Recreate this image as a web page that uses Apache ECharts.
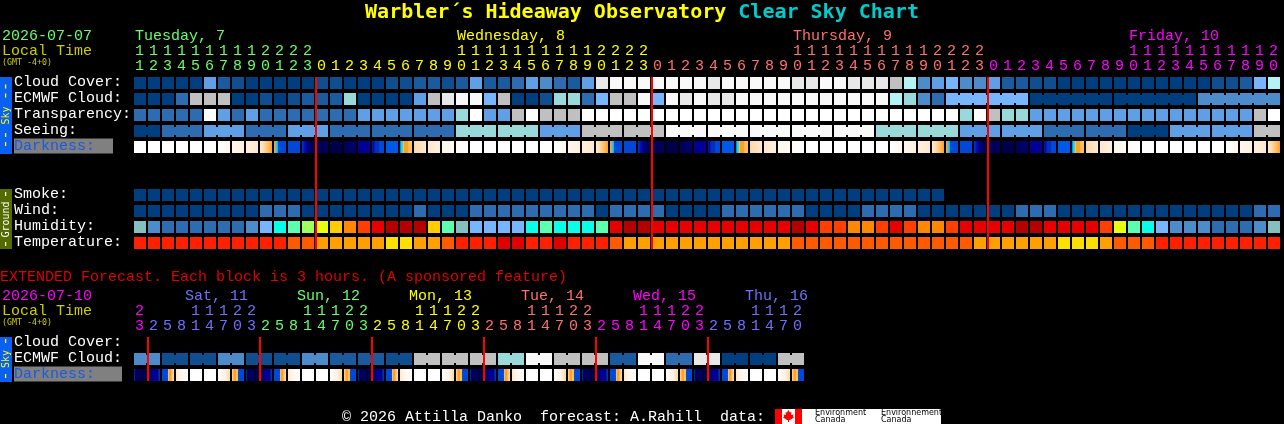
<!DOCTYPE html>
<html><head><meta charset="utf-8">
<style>html,body{margin:0;padding:0;background:#000}#c{width:1284px;height:424px}</style>
<script src="https://cdn.jsdelivr.net/npm/echarts@6/dist/echarts.min.js"></script>
</head><body><div id="c"></div>
<script>
// ---------- tick labels ----------
const hours = [11,12,13,14,15,16,17,18,19,20,21,22,23,
  0,1,2,3,4,5,6,7,8,9,10,11,12,13,14,15,16,17,18,19,20,21,22,23,
  0,1,2,3,4,5,6,7,8,9,10,11,12,13,14,15,16,17,18,19,20,21,22,23,
  0,1,2,3,4,5,6,7,8,9,10,11,12,13,14,15,16,17,18,19,20];
const hourDays = [13,24,24,21];
const extHours = [23,2,5,8,11,14,17,20,23,2,5,8,11,14,17,20,23,2,5,8,11,14,17,20,23,
  2,5,8,11,14,17,20,23,2,5,8,11,14,17,20,23,2,5,8,11,14,17,20];
const extHourDays = [1,8,8,8,8,8,7];
const dayLabels = ['Tuesday, 7','Wednesday, 8','Thursday, 9','Friday, 10'];
const dayLabelCols = [0,23,47,71];
const extDayLabels = ['Sat, 11','Sun, 12','Mon, 13','Tue, 14','Wed, 15','Thu, 16'];
const extDayLabelCols = [4,12,20,28,36,44];
const midnights = [13,37,61];
const extMidnights = [1,9,17,25,33,41];
const rowNames = ['Cloud Cover:','ECMWF Cloud:','Transparency:','Seeing:','Darkness:','','','Smoke:','Wind:','Humidity:','Temperature:'];
const extRowNames = ['Cloud Cover:','ECMWF Cloud:','Darkness:'];

// ---------- series values (levels) ----------
const cloudCover = [0,0,0,0,0,5,2,1,0,0,0,0,0,1,1,0,0,0,1,1,2,
  2,1,2,5,2,2,3,5,4,3,2,5,10,11,11,11,11,11,11,11,10,11,11,11,11,11,10,10,11,11,10,
  10,10,9,8,4,5,6,4,4,5,2,2,1,1,0,0,0,0,0,0,0,0,0,0,0,1,1,2,6,8];
const ecmwfCloud = [0,0,0,3,9,9,9,0,0,1,0,1,2,2,2,7,0,0,0,0,5,
  9,10,11,11,6,9,0,0,1,7,7,3,6,9,9,11,6,11,10,11,10,10,
  11,11,11,11,11,11,11,11,11,11,11,8,7,4,3,
  6,6,6,6,6,6,0,0,0,0,0,0,0,0,0,0,0,0,4,4,4,4,4,4];
const ecmwfBlocks = [1,1,1,1,1,1,1,1,1,1, 1,1,1,1,1,1,1,1,1,1, 1,1,1,1,1,1,1,1,1,1,
  1,1,1,1,1,1,1,1,1,1, 1,1,1,1,1,1,1,1,1,1, 1,1,1,1,1,1,1,1, 6,6,6,6];
const transparency = [3,3,3,3,3,12,5,3,5,3,3,3,3,3,3,3,5,5,5,5,5,
  5,5,7,12,5,5,9,12,9,9,9,12,12,12,12,12,12,12,12,12,12,12,12,12,12,12,12,12,12,12,12,
  12,12,12,12,12,12,12,7,12,9,7,7,5,5,5,5,5,5,5,5,5,5,5,5,5,5,5,5,9,12];
const seeing = [0,0,3,3,3,5,5,5,3,3,3,5,5,5,3,3,3,3,3,3,3,3,3,7,7,7,7,7,7,5,5,5,9,9,9,9,9,9,
  11,11,11,11,11,11,11,11,11,11,11,11,11,11,11,7,7,7,7,7,7,5,5,5,5,5,5,3,3,3,3,3,3,0,0,0,5,5,5,5,5,5,9,9];
const seeingBlocks = [2,3,3,3,3,3,3,3,3,3,3,3,3,3,3,3,3,3,3,3,3,3,3,3,3,3,3,2];
const smoke = [0,0,0,0,0,0,0,0,0,0,0,0,0,0,0,0,0,0,0,0,0,0,0,0,0,0,0,0,0,0,0,0,0,0,0,0,0,0,0,
  0,0,0,0,0,0,0,0,0,0,0,0,0,0,0,0,0,0,0];
const wind = [0,0,0,0,0,0,0,0,0,3,3,3,0,0,0,0,0,0,0,0,3,
  0,0,0,3,3,3,3,3,3,3,3,3,0,3,3,3,3,0,0,0,0,3,3,3,3,3,3,0,0,0,0,
  3,3,3,3,0,0,0,0,0,0,0,3,3,3,0,0,0,0,0,0,0,0,0,0,0,0,0,0,3,3];
const humidity = [3,1,0,0,0,0,0,0,1,2,4,5,6,7,8,9,10,11,12,12,12,
  8,5,3,2,2,2,2,4,5,4,4,4,5,11,12,12,11,11,11,11,11,11,11,11,11,11,12,11,10,10,9,
  9,10,11,10,9,9,10,11,11,11,11,12,12,11,11,11,11,10,7,5,4,2,1,1,1,0,0,0,1,3];
const temperature = [1,1,1,1,1,1,1,1,1,1,1,2,2,3,3,3,3,3,4,4,3,
  3,2,1,1,1,0,0,1,1,0,1,1,1,2,3,3,3,3,3,3,3,3,3,3,3,3,2,2,2,2,2,
  2,2,2,2,2,2,2,2,3,3,3,3,3,3,4,4,4,3,2,2,2,1,1,1,1,1,1,1,1,1];

// darkness: several samples across each column, as levels of the darkness ramp
const W=[16],dkA=[16,14],dkB=[14,13],dkC=[13,12],dkD=[12,11,10,9];
const dusk=[9,9,8,8,6,6,6,6,6,6,6,6],blue=[6],fall=[5,5,4,4,3,3,2,2,1,1,1,1];
const nightA=[1],nightB=[0],nightC=[1,2],nightD=[3],rise=[4,4,4,5,5,5,5,6,6,6,6,6],blue2=[7];
const dawn=[7,8,8,10,9,9,9,9,10,10,10,10],ltA=[11,12],ltB=[12,13],ltC=[14,15],ltD=[15,16];
const darkness = [W,W,W,W,W,W,dkA,dkB,dkC,dkD,dusk,blue,fall,nightA,nightB,nightC,nightD,rise,blue2,dawn,ltA,ltB,ltC,ltD,
  W,W,W,W,W,W,dkA,dkB,dkC,dkD,dusk,blue,fall,nightA,nightB,nightC,nightD,rise,blue2,dawn,ltA,ltB,ltC,ltD,
  W,W,W,W,W,W,dkA,dkB,dkC,dkD,dusk,blue,fall,nightA,nightB,nightC,nightD,rise,blue2,dawn,ltA,ltB,ltC,ltD,
  W,W,W,W,W,W,dkA,dkB,dkC,dkD];
const extEcmwf = [4,4,1,1,1,1,4,4,1,1,1,1,4,4,2,2,2,2,1,1,9,9,9,9,9,9,7,7,11,11,9,9,9,9,2,2,11,11,3,3,10,10,0,0,0,0,9,9];
const extBlocks = [2,2,2,2,2,2,2,2,2,2,2,2,2,2,2,2,2,2,2,2,2,2,2,2];
const e0=[6,1,1,1,1,1,1,0,0,0,1,1],e1=[1,1,2,2,2,3,3,3,3,2,5,5],e2=[6,6,6,6,6,6,10,9,9,10,11,11],e3=[12,14,15,16],e6=[16,14,13,11],e7=[11,10,9,9,10,10,6,6,6,6,6,6];
const extDarkness = [e0,e1,e2,e3,W,W,e6,e7,e0,e1,e2,e3,W,W,e6,e7,e0,e1,e2,e3,W,W,e6,e7,
  e0,e1,e2,e3,W,W,e6,e7,e0,e1,e2,e3,W,W,e6,e7,e0,e1,e2,e3,W,W,e6,e7];

// ---------- palettes ----------
const skyColors = ['#003f7f','#0f4f8f','#1a5a9e','#2d6cb0','#4c8ccb','#5e9fe6','#77b5fe','#99d9d9','#b2f4f6','#c0c0c0','#e8e8e8','#f9f9f9','#ffffff'];
const humidityColors = ['#2d6cb0','#4c8ccb','#77b5fe','#85bfc0','#08ffe8','#5bffaf','#9fff5f','#e8ff10','#ffcc00','#ff8800','#ff3e00','#e60000','#b50000'];
const tempColors = ['#e00000','#ff2000','#ff5a00','#ffa000','#ffdf00'];
const darkRamp = ['#000048','#000058','#000070','#000098','#0010b0','#0030c0','#0048d8','#0058e8','#00d8ff','#ffa020','#ffc060','#ffd8a8','#ffe8cc','#fff0dc','#fff6ea','#fffaf4','#ffffff'];
const dayColors = ['#66ff66','#ffff00','#ff7070','#ff00ff'];
const extDayColors = ['#ff00ff','#7070ff','#66ff66','#ffff00','#ff7070','#ff00ff','#7070ff'];
const MONO='"Liberation Mono",monospace';
const TITLE='"DejaVu Sans Mono",monospace';

function expand(counts,colors){const o=[];counts.forEach((n,k)=>{for(let i=0;i<n;i++)o.push(colors[k]);});return o;}
const hourColors=expand(hourDays,dayColors), extHourColors=expand(extHourDays,extDayColors);
const hourLabel=h=>(h>=10?Math.floor(h/10):' ')+'\n'+(h%10);

function blockEnds(blocks){const s={};let c=0;blocks.forEach(n=>{c+=n;s[c-1]=true;});return s;}

function cells(name,ax,row,values,palette,blocks){
  const ends=blocks?blockEnds(blocks):null;
  return {type:'custom',name,xAxisIndex:ax,yAxisIndex:ax,silent:true,clip:false,encode:{x:0,y:1},z:2,
    data:values.map((v,i)=>[i,row,v,ends&&!ends[i]?1:0]),
    renderItem(p,api){
      const c=api.coord([api.value(0),api.value(1)]),s=api.size([1,1]);
      const x=c[0]-s[0]/2,y=c[1]-s[1]/2,w=s[0]-2,h=s[1]-4,col=palette[api.value(2)];
      const kids=[{type:'rect',shape:{x,y,width:w,height:h},style:{fill:col}}];
      if(api.value(3))kids.push({type:'rect',shape:{x:x+w,y:y+2,width:2,height:h-4},style:{fill:col}});
      return {type:'group',children:kids};
    }};
}
function darkCells(name,ax,row,values){
  return {type:'custom',name,xAxisIndex:ax,yAxisIndex:ax,silent:true,clip:false,encode:{x:0,y:1},z:2,
    data:values.map((v,i)=>[i,row]),
    renderItem(p,api){
      const i=api.value(0),c=api.coord([i,api.value(1)]),s=api.size([1,1]);
      const smp=values[i];let fill;
      if(smp.length===1)fill=darkRamp[smp[0]];
      else fill=new echarts.graphic.LinearGradient(0,0,1,0,smp.map((l,k)=>({offset:k/(smp.length-1),color:darkRamp[l]})));
      return {type:'rect',shape:{x:c[0]-s[0]/2,y:c[1]-s[1]/2,width:s[0]-2,height:s[1]-4},style:{fill}};
    }};
}
function redLines(ax,cols,firstRow,lastRow){
  return {type:'custom',xAxisIndex:ax,yAxisIndex:ax,silent:true,clip:false,encode:{x:0,y:1},z:5,
    data:cols.map(c=>[c,firstRow]),
    renderItem(p,api){
      const c0=api.coord([api.value(0),firstRow]),c1=api.coord([api.value(0),lastRow]),s=api.size([1,1]);
      return {type:'rect',shape:{x:c0[0]-s[0]/2-1,y:c0[1]-s[1]/2,width:2,height:c1[1]-c0[1]+s[1]-4},style:{fill:'#ff0000'}};
    }};
}
function dayText(ax,cols,labels,colors,dx,dy){
  return {type:'custom',xAxisIndex:ax,yAxisIndex:ax,silent:true,clip:false,encode:{x:0,y:1},z:3,
    data:cols.map((c,i)=>[c,0,i]),
    renderItem(p,api){
      const c=api.coord([api.value(0),0]),s=api.size([1,1]),k=api.value(2);
      return {type:'text',style:{x:c[0]-s[0]/2+dx,y:c[1]-s[1]/2+dy,text:labels[k],fill:colors[k],font:'15px '+MONO,textAlign:'left',textVerticalAlign:'middle'}};
    }};
}
const xAxisOf=(gi,data,colors)=>({type:'category',gridIndex:gi,position:'top',data:data.map(String),
  axisLine:{show:false},axisTick:{show:false},splitLine:{show:false},
  axisLabel:{interval:0,hideOverlap:false,margin:3,fontFamily:MONO,fontSize:15,lineHeight:15,padding:[0,3,0,0],
    formatter:(v,i)=>hourLabel(+data[i]),color:(v,i)=>colors[i]}});
const yAxisOf=(gi,names,darkName)=>({type:'category',gridIndex:gi,inverse:true,data:names,
  axisLine:{show:false},axisTick:{show:false},splitLine:{show:false},
  axisLabel:{interval:0,hideOverlap:false,align:'left',margin:120,color:'#fff',fontFamily:MONO,fontSize:15,padding:[0,0,6,0],
    formatter:v=>v==='Darkness:'?'{'+darkName+'|'+v+'}':v,
    rich:{dk:{color:'#1a5ae0',backgroundColor:'#808080',width:99,height:15,fontFamily:MONO,fontSize:15},
          dk2:{color:'#1a5ae0',backgroundColor:'#808080',width:108,height:15,fontFamily:MONO,fontSize:15}}}});

const txt=(x,y,text,fill,font)=>({type:'text',x,y,silent:true,style:{text,fill,font:font||('15px '+MONO),textAlign:'left',textVerticalAlign:'middle'}});
const bar=(y,h,fill)=>({type:'rect',silent:true,shape:{x:0,y,width:12,height:h},style:{fill}});
const vtext=(cy,text,fill)=>({type:'text',silent:true,x:6.5,y:cy,rotation:Math.PI/2,style:{text,fill,font:'10px "DejaVu Sans Mono"',textAlign:'center',textVerticalAlign:'middle'}});
const vdash=(cy,text,fill)=>({type:'text',silent:true,x:6,y:cy,rotation:Math.PI/2,style:{text,fill,font:'15px '+MONO,textAlign:'center',textVerticalAlign:'middle'}});
const box=(x,y,w,h,fill)=>({type:'rect',silent:true,shape:{x,y,width:w,height:h},style:{fill}});

const option={
  animation:false,backgroundColor:'#000',
  title:{left:'center',top:1,padding:[0,0,0,0],itemGap:0,
    text:'{a|Warbler´s Hideaway Observatory }{b|Clear Sky Chart}',
    textStyle:{rich:{a:{color:'#ffff00',fontFamily:TITLE,fontWeight:'bold',fontSize:20,lineHeight:24},b:{color:'#00cccc',fontFamily:TITLE,fontWeight:'bold',fontSize:20,lineHeight:24}}}},
  grid:[{left:134,top:77,width:1148,height:176,containLabel:false},{left:134,top:337,width:672,height:48,containLabel:false}],
  xAxis:[xAxisOf(0,hours,hourColors),xAxisOf(1,extHours,extHourColors)],
  yAxis:[yAxisOf(0,rowNames,'dk'),yAxisOf(1,extRowNames,'dk2')],
  series:[
    cells('Cloud Cover',0,0,cloudCover,skyColors),
    cells('ECMWF Cloud',0,1,ecmwfCloud,skyColors,ecmwfBlocks),
    cells('Transparency',0,2,transparency,skyColors),
    cells('Seeing',0,3,seeing,skyColors,seeingBlocks),
    darkCells('Darkness',0,4,darkness),
    cells('Smoke',0,7,smoke,skyColors),
    cells('Wind',0,8,wind,skyColors),
    cells('Humidity',0,9,humidity,humidityColors),
    cells('Temperature',0,10,temperature,tempColors),
    cells('ECMWF Cloud (extended)',1,1,extEcmwf,skyColors,extBlocks),
    darkCells('Darkness (extended)',1,2,extDarkness),
    redLines(0,midnights,0,10),
    redLines(1,extMidnights,0,2),
    dayText(0,dayLabelCols,dayLabels,dayColors,1,-41),
    dayText(1,extDayLabelCols,extDayLabels,extDayColors.slice(1),-5,-41)
  ],
  graphic:{elements:[
    txt(2,36,'2026-07-07','#66ff66'),
    txt(2,51,'Local Time','#cccc00'),
    txt(2,63,'(GMT -4+0)','#cccc00','8.3px "DejaVu Sans Mono"'),
    txt(2,296,'2026-07-10','#ff00ff'),
    txt(2,311,'Local Time','#cccc00'),
    txt(2,323,'(GMT -4+0)','#cccc00','8.3px "DejaVu Sans Mono"'),
    txt(0,277,'EXTENDED Forecast. Each block is 3 hours. (A sponsored feature)','#e00000'),
    txt(342,417,'© 2026 Attilla Danko  forecast: A.Rahill  data:','#ffffff'),
    bar(77,77,'#0a60f0'),bar(189,60,'#556b00'),bar(337,45,'#0a60f0'),
    vdash(91,'--','#ffff00'),vtext(115.5,'Sky','#ffff00'),vdash(139.5,'--','#ffff00'),
    vdash(194,'-','#ffffff'),vtext(219.5,'Ground','#ffffff'),vdash(244,'-','#ffffff'),
    vdash(341,'-','#ffff00'),vtext(359,'Sky','#ffff00'),vdash(376,'-','#ffff00'),
    box(775,409,166,15,'#ffffff'),box(775,409,7,15,'#ff0000'),box(795,409,7,15,'#ff0000'),
    {type:'polygon',silent:true,shape:{points:[[788.5,410],[790,412.5],[791.5,412],[791,415],[793.5,414.5],[793,416.5],[794,417.5],[790,420],[789,420],[789,422],[788,422],[788,420],[787,420],[783,417.5],[784,416.5],[783.5,414.5],[786,415],[785.5,412],[787,412.5]]},style:{fill:'#ff0000'}},
    txt(815,412.5,'Environment','#000','8px "DejaVu Sans"'),
    txt(815,420,'Canada','#000','8px "DejaVu Sans"'),
    txt(881,412.5,'Environnement','#000','8px "DejaVu Sans"'),
    txt(881,420,'Canada','#000','8px "DejaVu Sans"')
  ]}
};
echarts.init(document.getElementById('c'),null,{renderer:'canvas'}).setOption(option);
</script></body></html>
